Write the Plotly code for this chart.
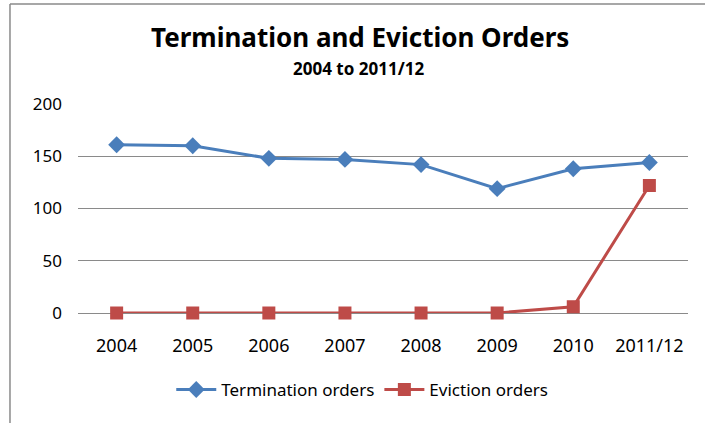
import plotly.graph_objects as go

years = ["2004", "2005", "2006", "2007", "2008", "2009", "2010", "2011/12"]
termination = [161, 160, 148, 147, 142, 119, 138, 144]
eviction = [0, 0, 0, 0, 0, 0, 6, 122]

FONT = "Noto Sans, Open Sans, sans-serif"
BLUE = "#4A7EBB"
RED = "#BE4B48"
GREY = "#8a8a8a"

fig = go.Figure()
fig.add_trace(go.Scatter(x=years, y=termination, name="Termination orders",
                         mode="lines+markers", cliponaxis=False,
                         line=dict(color=BLUE, width=3),
                         marker=dict(symbol="diamond", size=13, color=BLUE,
                                     line=dict(width=0))))
fig.add_trace(go.Scatter(x=years, y=eviction, name="Eviction orders",
                         mode="lines+markers", cliponaxis=False,
                         line=dict(color=RED, width=3),
                         marker=dict(symbol="square", size=13, color=RED,
                                     line=dict(width=0))))

fig.update_layout(
    width=705, height=423,
    margin=dict(l=78, r=17, t=104, b=110),
    paper_bgcolor="white", plot_bgcolor="white",
    font=dict(family=FONT, size=16, color="#000"),
    showlegend=True,
    legend=dict(orientation="h", x=0.466, y=-0.368, xanchor="center", yanchor="middle",
                font=dict(size=17), itemwidth=40),
    annotations=[
        dict(text="<b>Termination and Eviction Orders</b>", x=0.463, y=1.32,
             xref="paper", yref="paper", yanchor="middle", showarrow=False,
             font=dict(size=26)),
        dict(text="<b>2004 to 2011/12</b>", x=0.46, y=1.172,
             xref="paper", yref="paper", yanchor="middle", showarrow=False,
             font=dict(size=17)),
    ],
    # chart-area border (only left and top edges visible in the crop)
    shapes=[
        dict(type="line", xref="paper", yref="paper", x0=-0.1115, x1=-0.1115,
             y0=-1, y1=1.478, line=dict(color=GREY, width=1.5)),
        dict(type="line", xref="paper", yref="paper", x0=-0.1115, x1=1.5,
             y0=1.478, y1=1.478, line=dict(color=GREY, width=1.5)),
    ],
)
fig.update_xaxes(showgrid=False, showline=True, linecolor=GREY, linewidth=1,
                 layer="below traces",
                 ticks="", ticklabelstandoff=16, tickfont=dict(size=18))
fig.update_yaxes(range=[0, 200], dtick=50, showgrid=True, gridcolor=GREY,
                 gridwidth=1, zeroline=False, showline=False, ticks="",
                 layer="below traces",
                 ticklabelstandoff=15, tickfont=dict(size=17))

fig.write_html("out.html", config={"displayModeBar": False},
               post_script="document.body.style.margin='0';")
